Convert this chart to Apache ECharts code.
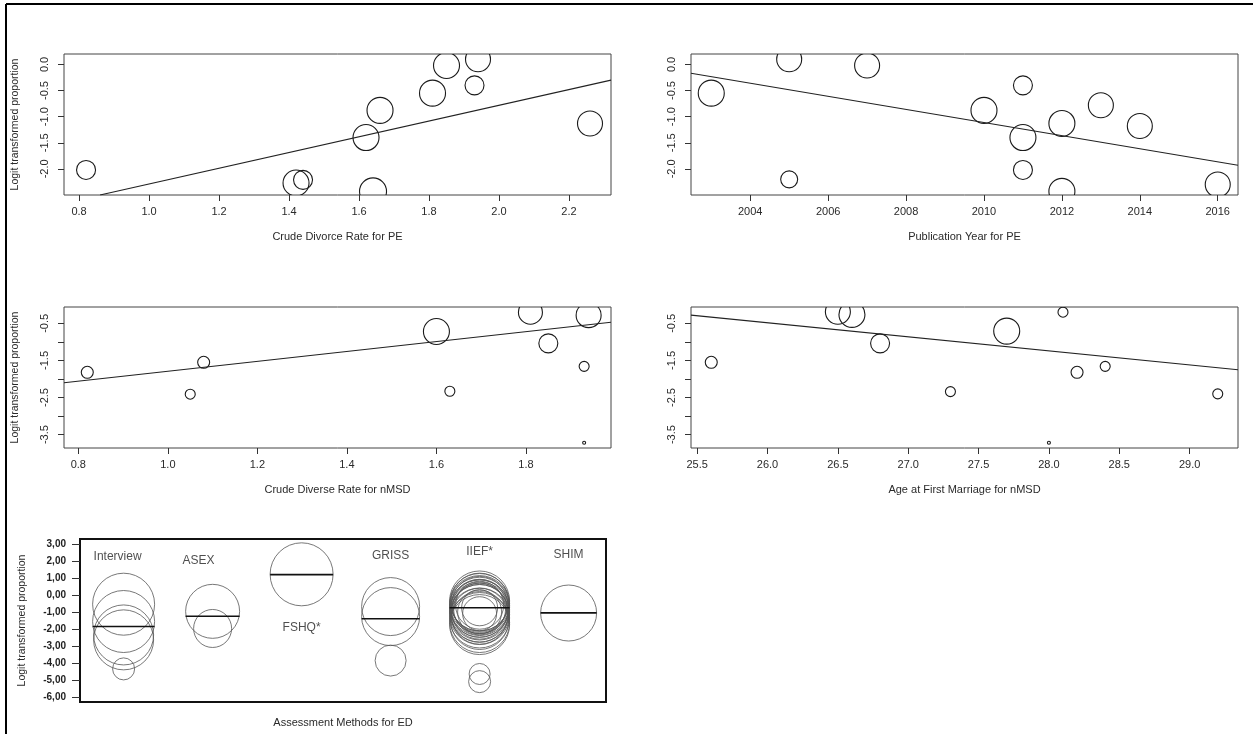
<!DOCTYPE html>
<html><head><meta charset="utf-8">
<script src="https://cdn.jsdelivr.net/npm/echarts@6/dist/echarts.min.js"></script>
<style>html,body{margin:0;padding:0;background:#fff}#c{width:1253px;height:734px}</style>
</head><body><div id="c"></div>
<script>
// ---------- Panel 1: Crude Divorce Rate for PE ----------
const peRateX = [0.82, 1.42, 1.44, 1.62, 1.64, 1.66, 1.81, 1.85, 1.93, 1.94, 2.26];
const peRateY = [-2.02, -2.27, -2.21, -1.4, -2.43, -0.88, -0.55, -0.02, -0.4, 0.1, -1.13];
const peRateW = [9.5, 13, 9.5, 13, 13.5, 13, 13, 13, 9.5, 12.5, 12.5];
const peRateFit = [[0.86, -2.5], [2.32, -0.3]];
const peRateTicks = [0.8, 1.0, 1.2, 1.4, 1.6, 1.8, 2.0, 2.2];

// ---------- Panel 2: Publication Year for PE ----------
const peYearX = [2003, 2005, 2005, 2007, 2010, 2011, 2011, 2011, 2012, 2012, 2013, 2014, 2016];
const peYearY = [-0.55, 0.1, -2.2, -0.02, -0.88, -0.4, -1.4, -2.02, -1.13, -2.43, -0.78, -1.18, -2.3];
const peYearW = [13, 12.5, 8.5, 12.5, 13, 9.5, 13, 9.5, 13, 13, 12.5, 12.5, 12.5];
const peYearFit = [[2002.48, -0.17], [2016.52, -1.93]];
const peYearTicks = [2004, 2006, 2008, 2010, 2012, 2014, 2016];
const peYTicks = [0.0, -0.5, -1.0, -1.5, -2.0];

// ---------- Panel 3: Crude Diverse Rate for nMSD ----------
const nmsdRateX = [0.82, 1.05, 1.08, 1.6, 1.63, 1.81, 1.85, 1.93, 1.93, 1.94];
const nmsdRateY = [-1.82, -2.41, -1.55, -0.72, -2.33, -0.2, -1.04, -1.66, -3.72, -0.28];
const nmsdRateW = [6, 5, 6, 13, 5, 12, 9.5, 5, 1.5, 12.5];
const nmsdRateFit = [[0.768, -2.1], [1.99, -0.47]];
const nmsdRateTicks = [0.8, 1.0, 1.2, 1.4, 1.6, 1.8];

// ---------- Panel 4: Age at First Marriage for nMSD ----------
const nmsdAgeX = [25.6, 26.5, 26.6, 26.8, 27.3, 27.7, 28.0, 28.1, 28.2, 28.4, 29.2];
const nmsdAgeY = [-1.55, -0.19, -0.26, -1.04, -2.34, -0.71, -3.72, -0.2, -1.82, -1.66, -2.4];
const nmsdAgeW = [6, 12.5, 13, 9.5, 5, 13, 1.5, 5, 6, 5, 5];
const nmsdAgeFit = [[25.456, -0.28], [29.344, -1.75]];
const nmsdAgeTicks = [25.5, 26.0, 26.5, 27.0, 27.5, 28.0, 28.5, 29.0];
const nmsdYTicks = [-0.5, -1.0, -1.5, -2.0, -2.5, -3.0, -3.5];
const nmsdYLabels = [-0.5, -1.5, -2.5, -3.5];

// ---------- Panel 5: Assessment Methods for ED ----------
const methods = ['Interview', 'ASEX', 'FSHQ*', 'GRISS', 'IIEF*', 'SHIM'];
const methodMeans = [-1.85, -1.25, 1.2, -1.4, -0.75, -1.05];
const edMethod = [1,1,1,1,1, 2,2, 3, 4,4,4,
  5,5,5,5,5,5,5,5,5,5,5,5,5,5,5,5,5,5,5,5,5,5,5,5,5, 6];
const edLogit = [-0.54, -1.56, -2.35, -2.64, -4.35, -0.96, -1.97, 1.22, -0.68, -1.27, -3.86,
  -0.35, -0.42, -0.5, -0.55, -0.62, -0.68, -0.72, -0.78, -0.82, -0.88, -0.95, -1.0, -1.08, -1.15,
  -1.25, -1.35, -1.5, -1.62, -1.74, -0.75, -1.0, -0.6, -4.65, -5.1, -1.1, -1.06];
const edWeight = [31, 31, 30, 30, 11, 27, 19, 31.5, 29, 29, 15.5,
  30, 29, 30, 28, 30, 27, 30, 29, 26, 30, 28, 30, 29, 30,
  28, 30, 29, 30, 30, 18, 22, 24, 10.5, 11, 17, 28];
const edYTicks = [3, 2, 1, 0, -1, -2, -3, -4, -5, -6];

// ---------- layout ----------
const FONT = '"Liberation Sans", Arial, sans-serif';
const TXT = '#2a2a2a';
const methodLabelY = [2.25, 2.05, -1.95, 2.3, 2.55, 2.35];
const methodLabelDx = [-6, -14, 0, 0, 0, 0];

const zip = (a, b, c) => a.map((v, i) => c ? [v, b[i], c[i]] : [v, b[i]]);

const grids = [
  {left: 64, top: 54, width: 547, height: 141},
  {left: 691, top: 54, width: 547, height: 141},
  {left: 64, top: 307, width: 547, height: 141},
  {left: 691, top: 307, width: 547, height: 141},
  {left: 80, top: 539, width: 526, height: 163}
].map((g, i) => Object.assign(g, {show: true, borderColor: i === 4 ? '#111' : '#444',
  borderWidth: i === 4 ? 2 : 1, backgroundColor: 'transparent'}));

function xAx(gi, min, max, ticks, fmt, name) {
  return {type: 'value', gridIndex: gi, min, max, position: 'bottom', splitLine: {show: false},
    axisLine: {show: false, onZero: false},
    axisTick: {show: !!ticks, length: 6, lineStyle: {color: '#333'}, customValues: ticks || []},
    axisLabel: {show: !!ticks, customValues: ticks || [], formatter: fmt, margin: 11,
      fontFamily: FONT, fontSize: 11, color: TXT},
    name, nameLocation: 'middle', nameGap: gi === 4 ? 15 : 36,
    nameTextStyle: {fontFamily: FONT, fontSize: 11, color: TXT}};
}
function yAx(gi, min, max, ticks, labels, fmt, name) {
  const p5 = gi === 4;
  return {type: 'value', gridIndex: gi, min, max, position: 'left', splitLine: {show: false},
    axisLine: {show: false, onZero: false},
    axisTick: {show: true, length: p5 ? 8 : 6, lineStyle: {color: '#333'}, customValues: ticks},
    axisLabel: {customValues: labels, formatter: fmt, rotate: p5 ? 0 : 90,
      margin: 14, fontFamily: FONT, fontSize: p5 ? 10 : 11,
      fontWeight: p5 ? 'bold' : 'normal', color: p5 ? '#222' : TXT},
    name: name || '', nameLocation: 'middle', nameRotate: 90, nameGap: p5 ? 52 : 43,
    nameTextStyle: {fontFamily: FONT, fontSize: 10.5, color: TXT}};
}
const f1 = v => v.toFixed(1);
const f0 = v => String(Math.round(v));
const f2c = v => v.toFixed(2).replace('.', ',');

function circles(gi, data, stroke, lw) {
  return {type: 'custom', xAxisIndex: gi, yAxisIndex: gi, clip: true, silent: true,
    data, renderItem: (params, api) => {
      const p = api.coord([api.value(0), api.value(1)]);
      return {type: 'circle', shape: {cx: p[0], cy: p[1], r: api.value(2)},
        style: {fill: 'none', stroke, lineWidth: lw}};
    }};
}
function fit(gi, data) {
  return {type: 'line', xAxisIndex: gi, yAxisIndex: gi, data, clip: true, silent: true,
    showSymbol: false, symbol: 'none', lineStyle: {color: '#222', width: 1.1}};
}

// per-method maximum weight -> mean bar half-width
const maxW = methods.map((m, k) => Math.max(...edWeight.filter((w, i) => edMethod[i] === k + 1)));

const option = {
  animation: false,
  backgroundColor: '#fff',
  grid: grids,
  xAxis: [
    xAx(0, 0.757, 2.32, peRateTicks, f1, 'Crude Divorce Rate for PE'),
    xAx(1, 2002.48, 2016.52, peYearTicks, f0, 'Publication Year for PE'),
    xAx(2, 0.768, 1.99, nmsdRateTicks, f1, 'Crude Diverse Rate for nMSD'),
    xAx(3, 25.456, 29.344, nmsdAgeTicks, f1, 'Age at First Marriage for nMSD'),
    xAx(4, 0.51, 6.42, null, null, 'Assessment Methods for ED')
  ],
  yAxis: [
    yAx(0, -2.5, 0.2, peYTicks, peYTicks, f1, 'Logit transformed proportion'),
    yAx(1, -2.5, 0.2, peYTicks, peYTicks, f1, ''),
    yAx(2, -3.86, -0.06, nmsdYTicks, nmsdYLabels, f1, 'Logit transformed proportion'),
    yAx(3, -3.86, -0.06, nmsdYTicks, nmsdYLabels, f1, ''),
    yAx(4, -6.3, 3.3, edYTicks, edYTicks, f2c, 'Logit transformed proportion')
  ],
  graphic: [
    {type: 'line', shape: {x1: 6, y1: 4, x2: 1253, y2: 4}, style: {stroke: '#000', lineWidth: 2}, z: 100},
    {type: 'line', shape: {x1: 6, y1: 4, x2: 6, y2: 734}, style: {stroke: '#000', lineWidth: 2}, z: 100}
  ],
  series: [
    circles(0, zip(peRateX, peRateY, peRateW), '#1a1a1a', 1.1), fit(0, peRateFit),
    circles(1, zip(peYearX, peYearY, peYearW), '#1a1a1a', 1.1), fit(1, peYearFit),
    circles(2, zip(nmsdRateX, nmsdRateY, nmsdRateW), '#1a1a1a', 1.1), fit(2, nmsdRateFit),
    circles(3, zip(nmsdAgeX, nmsdAgeY, nmsdAgeW), '#1a1a1a', 1.1), fit(3, nmsdAgeFit),
    circles(4, zip(edMethod, edLogit, edWeight), '#555', 0.8),
    {type: 'custom', xAxisIndex: 4, yAxisIndex: 4, clip: true, silent: true,
      data: methodMeans.map((m, k) => [k + 1, m, maxW[k]]),
      renderItem: (params, api) => {
        const p = api.coord([api.value(0), api.value(1)]);
        const h = api.value(2);
        return {type: 'line', shape: {x1: p[0] - h, y1: p[1], x2: p[0] + h, y2: p[1]},
          style: {stroke: '#111', lineWidth: 1.6}};
      }},
    {type: 'scatter', xAxisIndex: 4, yAxisIndex: 4, symbolSize: 0, silent: true,
      data: methods.map((m, k) => ({name: m, value: [k + 1, methodLabelY[k]],
        label: {offset: [methodLabelDx[k], 0]}})),
      label: {show: true, position: 'inside', formatter: p => p.name,
        fontFamily: FONT, fontSize: 12, color: '#222'}}
  ]
};
echarts.init(document.getElementById('c'), null, {renderer: 'canvas'}).setOption(option);
</script></body></html>
